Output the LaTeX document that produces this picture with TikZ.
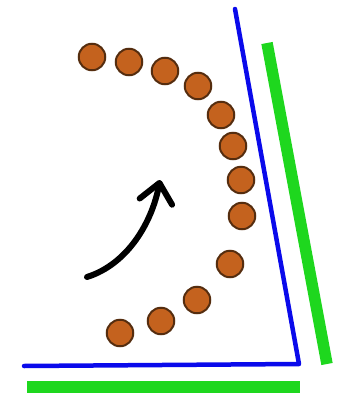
\documentclass[tikz,border=0pt]{standalone}
\usetikzlibrary{arrows.meta}

\definecolor{beadfill}{RGB}{196,98,30}
\definecolor{beadline}{RGB}{85,45,15}
\definecolor{wallblue}{RGB}{10,10,235}
\definecolor{wallgreen}{RGB}{30,215,30}

\tikzset{
  bead/.style={circle,draw=beadline,line width=2pt,fill=beadfill,minimum size=26.5pt,inner sep=0pt},
  wall/.style={wallblue,line width=4.5pt,line cap=round,line join=round},
  pad/.style={wallgreen,line width=11.5pt}
}

\begin{document}
\begin{tikzpicture}[x=1pt,y=-1pt,>={Straight Barb[length=19pt,width=33pt,round]}]
  \useasboundingbox (0,0) rectangle (347,394);
  % walls
  \coordinate (top) at (235,9);
  \coordinate (corner) at (299,364);
  \coordinate (left) at (24,366);
  \draw[wall] (top) -- (corner) -- (left);
  \coordinate (gtop) at (267,43);
  \coordinate (gbot) at (327,364);
  \draw[pad] (gtop) -- (gbot);
  \coordinate (gl) at (27,387);
  \coordinate (gr) at (300,387);
  \draw[pad] (gl) -- (gr);
  % beads
  \foreach \n/\x/\y in {1/92/57,2/129/62,3/165/71,4/198/86,5/221/115,6/233/146,
                        7/241/180,8/242/216,9/230/264,10/197/300,11/161/321,12/120/333}
    \node[bead] (d\n) at (\x,\y) {};
  % rotation arrow
  \coordinate (a0) at (87,277);
  \coordinate (a1) at (160,180);
  \draw[->,line width=6pt,line cap=round] (a0) .. controls (128,264) and (152,222) .. (a1);
\end{tikzpicture}
\end{document}
